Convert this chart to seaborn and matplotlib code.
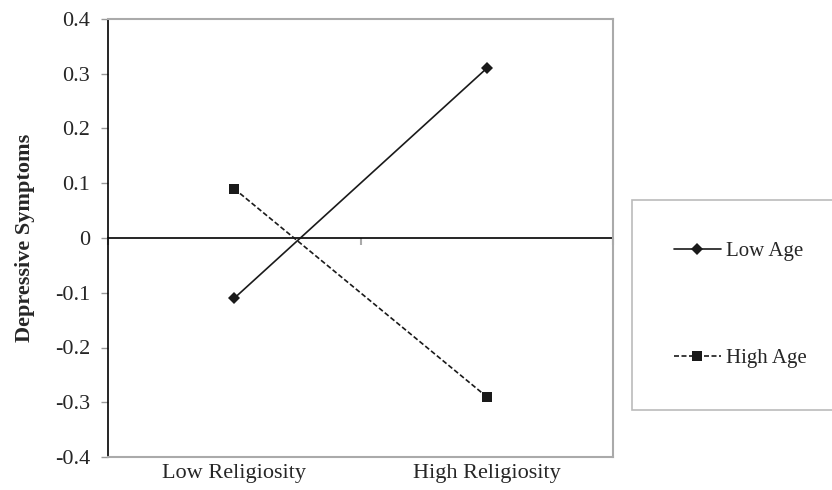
import pandas as pd
import matplotlib
matplotlib.use("Agg")
import matplotlib.pyplot as plt
import seaborn as sns

categories = ["Low Religiosity", "High Religiosity"]
low_age = [-0.11, 0.31]
high_age = [0.09, -0.29]
series_names = ["Low Age", "High Age"]
y_ticks = [-0.4, -0.3, -0.2, -0.1, 0, 0.1, 0.2, 0.3, 0.4]
y_tick_labels = ["-0.4", "-0.3", "-0.2", "-0.1", "0", "0.1", "0.2", "0.3", "0.4"]

df = pd.DataFrame({
    "religiosity": categories * 2,
    "symptoms": low_age + high_age,
    "age": [series_names[0]] * 2 + [series_names[1]] * 2,
})

sns.set_style("white")
plt.rcParams["font.family"] = ["Liberation Serif", "DejaVu Serif"]

fig = plt.figure(figsize=(8.32, 4.9), dpi=100)
ax = fig.add_axes([108 / 832, 1 - 457 / 490, 505 / 832, 438 / 490])

sns.lineplot(data=df, x="religiosity", y="symptoms", hue="age", style="age",
             palette=["#1a1a1a", "#1a1a1a"], dashes=[(None, None), (3, 1.5)],
             markers=["D", "s"], markersize=7.5, linewidth=1.2,
             markeredgewidth=0, ax=ax, legend=False)
# diamond slightly smaller
ax.lines[0].set_markersize(6.5)

ax.set_xlim(-0.5, 1.5)
ax.set_ylim(-0.4, 0.4)
ax.set_yticks(y_ticks)
ax.set_yticklabels(y_tick_labels)
ax.set_xticks([0, 1])
ax.set_xticklabels(categories)
ax.set_xlabel("")
ax.set_ylabel("Depressive Symptoms", fontsize=16, fontweight="bold", labelpad=14)

ax.tick_params(axis="y", direction="out", length=5, width=1, color="#999999",
               labelsize=16, pad=8, left=True)
ax.tick_params(axis="x", length=0, labelsize=16, pad=5)

for side in ["top", "right", "bottom"]:
    ax.spines[side].set_color("#aaaaaa")
    ax.spines[side].set_linewidth(1.5)
ax.spines["left"].set_color("black")
ax.spines["left"].set_linewidth(1.2)

# horizontal axis through zero with category-separator ticks
sec = ax.secondary_xaxis(0.5)
sec.set_xticks([-0.5, 0.5, 1.5])
sec.set_xticklabels([])
sec.tick_params(direction="in", length=5, width=1.5, color="#aaaaaa")
for s in sec.spines.values():
    s.set_color("black")
    s.set_linewidth(1.2)

handles = [
    plt.Line2D([], [], color="#1a1a1a", lw=1.2, marker="D", markersize=6.5,
               markeredgewidth=0),
    plt.Line2D([], [], color="#1a1a1a", lw=1.2, ls=(0, (3, 1.5)), marker="s",
               markersize=7.5, markeredgewidth=0),
]
leg = fig.legend(handles, series_names, loc="center left",
                 bbox_to_anchor=(632 / 832, 1 - 305 / 490),
                 frameon=True, fancybox=False, fontsize=15,
                 handlelength=2.25, handletextpad=0.26, labelspacing=4.2,
                 borderpad=2.0, borderaxespad=0)
leg.get_frame().set_edgecolor("#aaaaaa")
leg.get_frame().set_linewidth(1.2)

fig.savefig("out.png", dpi=100)
